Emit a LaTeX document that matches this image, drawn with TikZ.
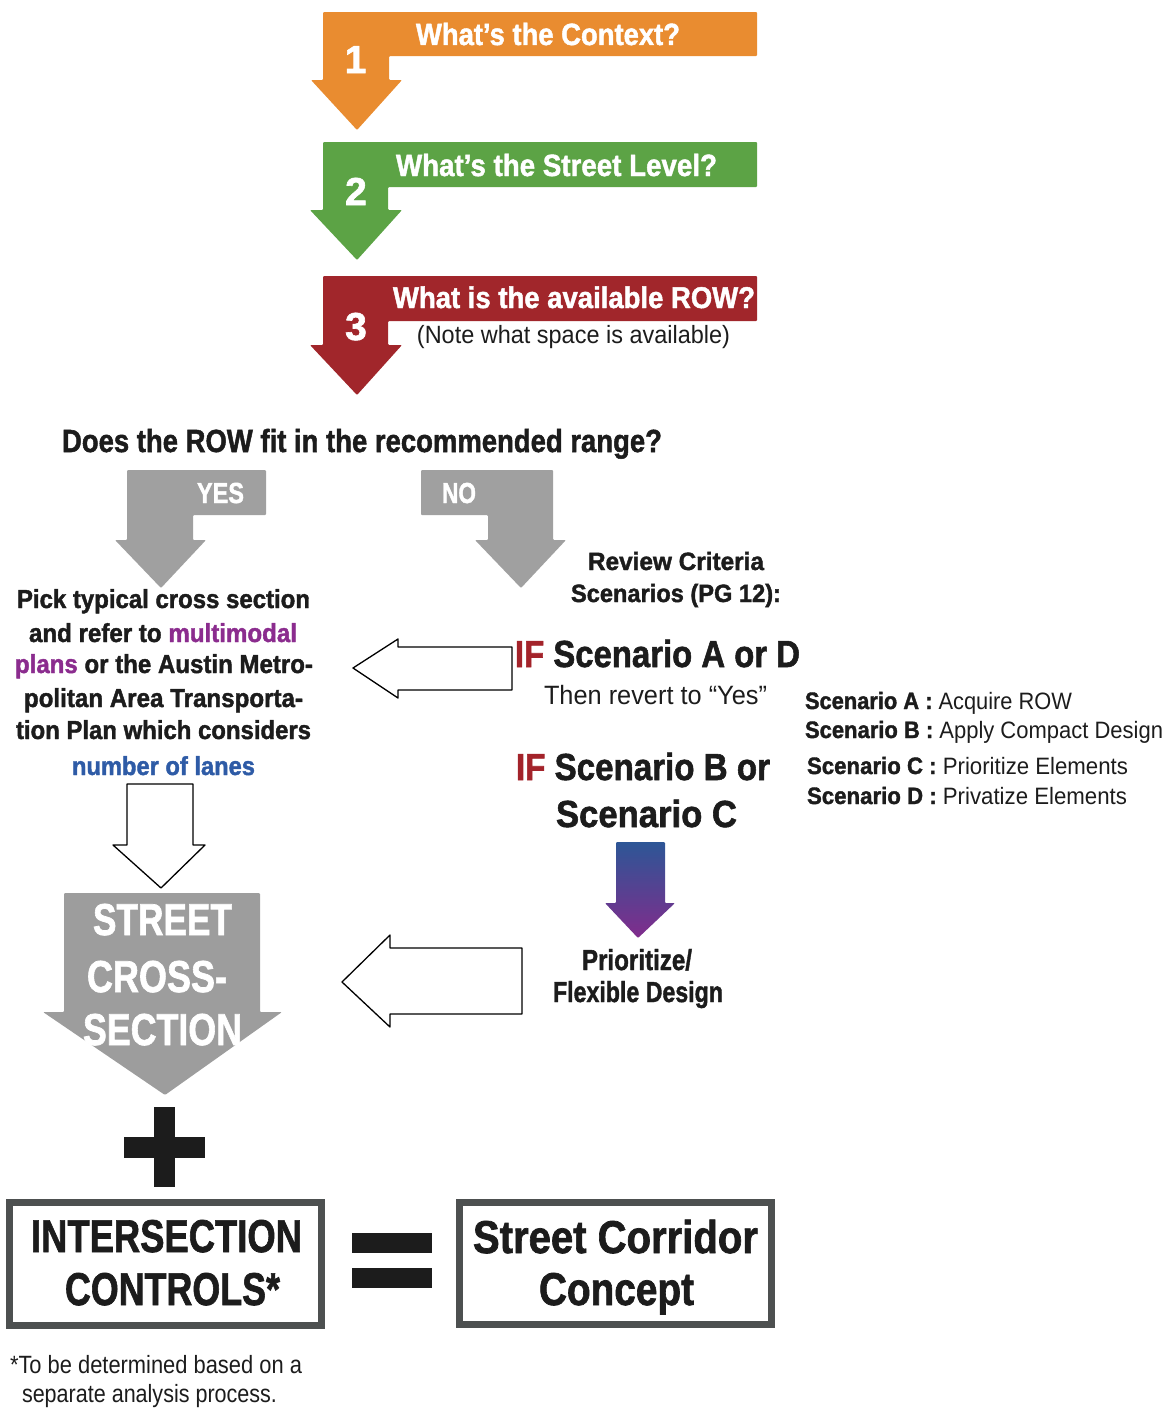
\documentclass[tikz,border=0pt]{standalone}
\usepackage{fontspec}
\setmainfont{Liberation Sans}[BoldFeatures={FakeBold=1.6}]
\usepackage{graphicx}
\definecolor{orangeA}{HTML}{E98C30}
\definecolor{greenA}{HTML}{5CA345}
\definecolor{redA}{HTML}{A1262B}
\definecolor{greyA}{HTML}{A0A0A0}
\definecolor{ink}{HTML}{1C1C1C}
\definecolor{boxline}{HTML}{4D5050}
\definecolor{purpleT}{HTML}{8B2C8E}
\definecolor{blueT}{HTML}{2E5BA6}
\definecolor{ifred}{HTML}{A3232A}
\definecolor{gtop}{HTML}{2D5696}
\definecolor{gbot}{HTML}{812C8C}
\newcommand{\fitw}[2]{\resizebox{#1pt}{\height}{#2}}
\newcommand{\fs}[1]{\fontsize{#1}{#1}\selectfont}
\tikzset{
  txt/.style={inner sep=0pt, outer sep=0pt, text=ink, font=\bfseries},
  rtxt/.style={inner sep=0pt, outer sep=0pt, text=ink, font=\mdseries},
  wtxt/.style={txt, text=white},
  hollow/.style={draw=black, line width=1.3pt, fill=white, line join=round},
  framebox/.style={draw=boxline, line width=7pt, fill=white},
}
\begin{document}
\begin{tikzpicture}[x=1pt,y=-1pt]
\useasboundingbox (0,0) rectangle (1168,1408);

% ---- step arrows ----
\fill[orangeA, rounded corners=1pt] (323,12) -- (757,12) -- (757,56) -- (389,56) -- (389,80) -- (402,80) -- (357,130) -- (311,80) -- (323,80) -- cycle;
\fill[greenA, rounded corners=1pt] (323,142) -- (757,142) -- (757,187) -- (388,187) -- (388,210) -- (402,210) -- (357,260) -- (310,210) -- (323,210) -- cycle;
\fill[redA, rounded corners=1pt] (323,276) -- (757,276) -- (757,321) -- (388,321) -- (388,345) -- (402,345) -- (357,395) -- (310,345) -- (323,345) -- cycle;

\node[wtxt, anchor=base] (t1) at (548,45) {\fs{30.7}\fitw{264}{What’s the Context?}};
\node[wtxt, anchor=base] (t2) at (556.5,176) {\fs{30.7}\fitw{321}{What’s the Street Level?}};
\node[wtxt, anchor=base] (t3) at (574,308) {\fs{30}\fitw{362}{What is the available ROW?}};
\node[rtxt, anchor=base] (t3n) at (573.5,343) {\fs{25}\fitw{313}{(Note what space is available)}};
\node[wtxt, anchor=base] (n1) at (355.5,73) {\fs{39}1};
\node[wtxt, anchor=base] (n2) at (356,205) {\fs{39}2};
\node[wtxt, anchor=base] (n3) at (356,340) {\fs{39}3};

% ---- question ----
\node[txt, anchor=base] (q) at (362,452) {\fs{32}\fitw{600}{Does the ROW fit in the recommended range?}};

% ---- YES / NO arrows ----
\fill[greyA, rounded corners=1pt] (127,470) -- (266,470) -- (266,515) -- (193,515) -- (193,540) -- (206,540) -- (161,588) -- (115,540) -- (127,540) -- cycle;
\fill[greyA, rounded corners=1pt] (421,470) -- (553,470) -- (553,540) -- (566,540) -- (521,588) -- (475,540) -- (488,540) -- (488,515) -- (421,515) -- cycle;
\node[wtxt, anchor=base] (yes) at (220.5,503) {\fs{29}\fitw{47}{YES}};
\node[wtxt, anchor=base] (no) at (459,503) {\fs{29}\fitw{34}{NO}};

\node[txt, anchor=base] (rc1) at (676,570) {\fs{25}\fitw{176}{Review Criteria}};
\node[txt, anchor=base] (rc2) at (676,602) {\fs{25}\fitw{210}{Scenarios (PG 12):}};

% ---- left text block ----
\node[txt, anchor=base] (l1) at (163.5,608) {\fs{26}\fitw{293}{Pick typical cross section}};
\node[txt, anchor=base] (l2) at (163,642) {\fs{26}\fitw{268}{and refer to \textcolor{purpleT}{multimodal}}};
\node[txt, anchor=base] (l3) at (164,673) {\fs{26}\fitw{298}{\textcolor{purpleT}{plans} or the Austin Metro-}};
\node[txt, anchor=base] (l4) at (163.5,707) {\fs{26}\fitw{279}{politan Area Transporta-}};
\node[txt, anchor=base] (l5) at (163.5,739) {\fs{26}\fitw{295}{tion Plan which considers}};
\node[txt, anchor=base, text=blueT] (l6) at (163.5,775) {\fs{26}\fitw{183}{number of lanes}};

% ---- scenarios ----
\node[txt, anchor=base west] (ifa) at (515,667) {\fs{37.7}\fitw{285}{\textcolor{ifred}{IF} Scenario A or D}};
\node[rtxt, anchor=base] (rev) at (655.5,704) {\fs{26.5}\fitw{223}{Then revert to “Yes”}};
\node[txt, anchor=base west] (ifb) at (516,780) {\fs{37.7}\fitw{254}{\textcolor{ifred}{IF} Scenario B or}};
\node[txt, anchor=base] (ifc) at (646.5,827) {\fs{37.7}\fitw{181}{Scenario C}};

\node[txt, anchor=base west] (sa) at (805,709) {\fs{23.7}\fitw{267}{Scenario A : \mdseries Acquire ROW}};
\node[txt, anchor=base west] (sb) at (805,738) {\fs{23.7}\fitw{358}{Scenario B : \mdseries Apply Compact Design}};
\node[txt, anchor=base west] (sc) at (807,774) {\fs{23.7}\fitw{321}{Scenario C : \mdseries Prioritize Elements}};
\node[txt, anchor=base west] (sd) at (807,804) {\fs{23.7}\fitw{320}{Scenario D : \mdseries Privatize Elements}};

% hollow arrow from scenario A/D back to the left block
\draw[hollow] (512,647) -- (512,690) -- (398,690) -- (398,698) -- (353,668) -- (398,639) -- (398,647) -- cycle;

% gradient arrow
\shade[top color=gtop, bottom color=gbot, rounded corners=1pt] (616,842) -- (665,842) -- (665,903) -- (675,903) -- (638,938) -- (605,903) -- (616,903) -- cycle;
\node[txt, anchor=base] (pr1) at (637,970) {\fs{29}\fitw{110}{Prioritize/}};
\node[txt, anchor=base] (pr2) at (638,1002) {\fs{29}\fitw{170}{Flexible Design}};

% hollow arrow from flexible design to street cross-section
\draw[hollow] (522,948) -- (522,1014) -- (390,1014) -- (390,1027) -- (342,982) -- (390,935) -- (390,948) -- cycle;

% hollow down arrow
\draw[hollow] (127,784) -- (193,784) -- (193,845) -- (205,845) -- (161,888) -- (113,845) -- (127,845) -- cycle;

% street cross-section arrow
\fill[greyA!98!black, rounded corners=1pt] (64,893) -- (260,893) -- (260,1012) -- (282,1012) -- (165,1095) -- (43,1012) -- (64,1012) -- cycle;
\node[wtxt, anchor=base] (sc1) at (162.5,935) {\fs{44.7}\fitw{139}{STREET}};
\node[wtxt, anchor=base] (sc2) at (157,992) {\fs{44.7}\fitw{140}{CROSS-}};
\node[wtxt, anchor=base] (sc3) at (162.5,1045) {\fs{44.7}\fitw{159}{SECTION}};

% plus sign
\fill[ink] (154,1107) rectangle (175,1187);
\fill[ink] (124,1137) rectangle (205,1158);

% boxes
\draw[framebox] (9.5,1202.5) rectangle (321.5,1325.5);
\draw[framebox] (459.5,1202.5) rectangle (771.5,1324.5);
\node[txt, anchor=base] (ic1) at (166.5,1252) {\fs{46}\fitw{271}{INTERSECTION}};
\node[txt, anchor=base] (ic2) at (172.5,1305) {\fs{46}\fitw{215}{CONTROLS*}};
\node[txt, anchor=base] (cc1) at (615.5,1253) {\fs{46}\fitw{285}{Street Corridor}};
\node[txt, anchor=base] (cc2) at (616.5,1305) {\fs{46}\fitw{155}{Concept}};

% equals sign
\fill[ink] (352,1233) rectangle (432,1253);
\fill[ink] (352,1268) rectangle (432,1288);

% footnote
\node[rtxt, anchor=base west] (fn1) at (10,1373) {\fs{25}\fitw{292}{*To be determined based on a}};
\node[rtxt, anchor=base west] (fn2) at (22,1402) {\fs{25}\fitw{255}{separate analysis process.}};
\end{tikzpicture}
\end{document}
